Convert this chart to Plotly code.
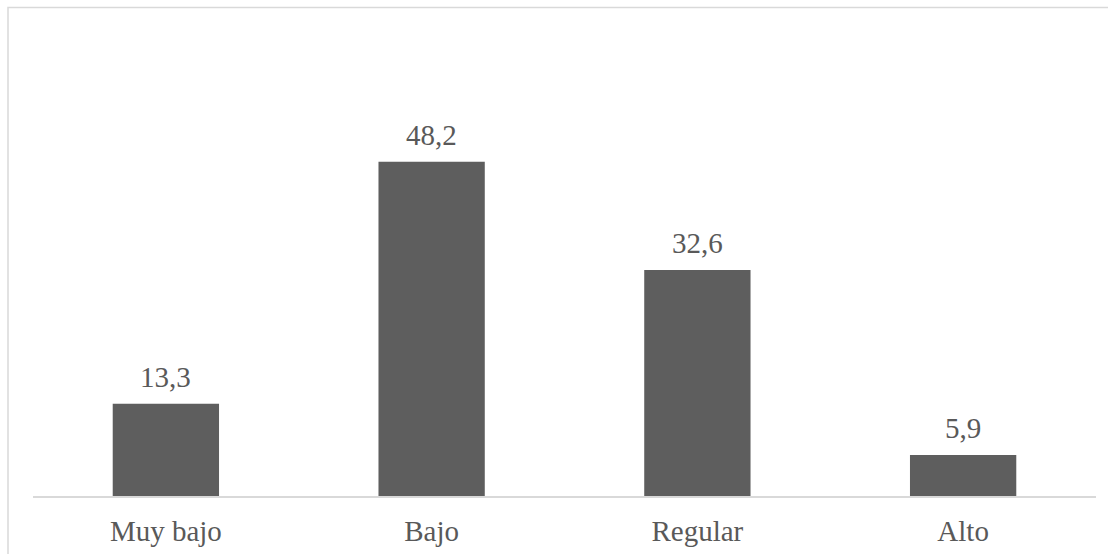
import plotly.graph_objects as go

categories = ["Muy bajo", "Bajo", "Regular", "Alto"]
values = [13.3, 48.2, 32.6, 5.9]
value_labels = ["13,3", "48,2", "32,6", "5,9"]

W, H = 1108, 554
m_l, m_r, m_t, m_b = 33, 12, 80, 58
plot_w = W - m_l - m_r
plot_h = H - m_t - m_b

SERIF = '"Liberation Serif", "Times New Roman", "DejaVu Serif", serif'
TEXT_GRAY = "#595959"

fig = go.Figure(
    go.Bar(
        x=categories,
        y=values,
        marker=dict(color="#5e5e5e", line=dict(width=0)),
        width=0.4,
        hoverinfo="skip",
    )
)

# value labels sitting just above each bar
for cat, val, lab in zip(categories, values, value_labels):
    fig.add_annotation(
        x=cat, y=val, text=lab, showarrow=False,
        yanchor="bottom", yshift=9,
        font=dict(family=SERIF, size=29, color=TEXT_GRAY),
    )

# outer chart frame (light gray)
fig.add_shape(
    type="rect", xref="paper", yref="paper",
    x0=(8 - m_l) / plot_w, x1=(W + 10 - m_l) / plot_w,
    y0=-(H + 10 - (H - m_b)) / plot_h, y1=(H - m_b - 7.5) / plot_h,
    line=dict(color="#d9d9d9", width=1.5),
    fillcolor="rgba(0,0,0,0)", layer="below",
)

fig.update_layout(
    width=W, height=H,
    margin=dict(l=m_l, r=m_r, t=m_t, b=m_b, pad=0, autoexpand=False),
    paper_bgcolor="white", plot_bgcolor="white",
    showlegend=False,
    font=dict(family=SERIF, size=29, color=TEXT_GRAY),
    xaxis=dict(
        showline=True, linecolor="#d9d9d9", linewidth=1.5,
        showgrid=False, zeroline=False, ticks="",
        ticklabelstandoff=8, fixedrange=True, automargin=False,
        tickfont=dict(family=SERIF, size=29, color=TEXT_GRAY),
    ),
    yaxis=dict(
        range=[0, 60], visible=False, showgrid=False, zeroline=False,
        fixedrange=True, automargin=False,
    ),
)

fig.write_html("out.html")
